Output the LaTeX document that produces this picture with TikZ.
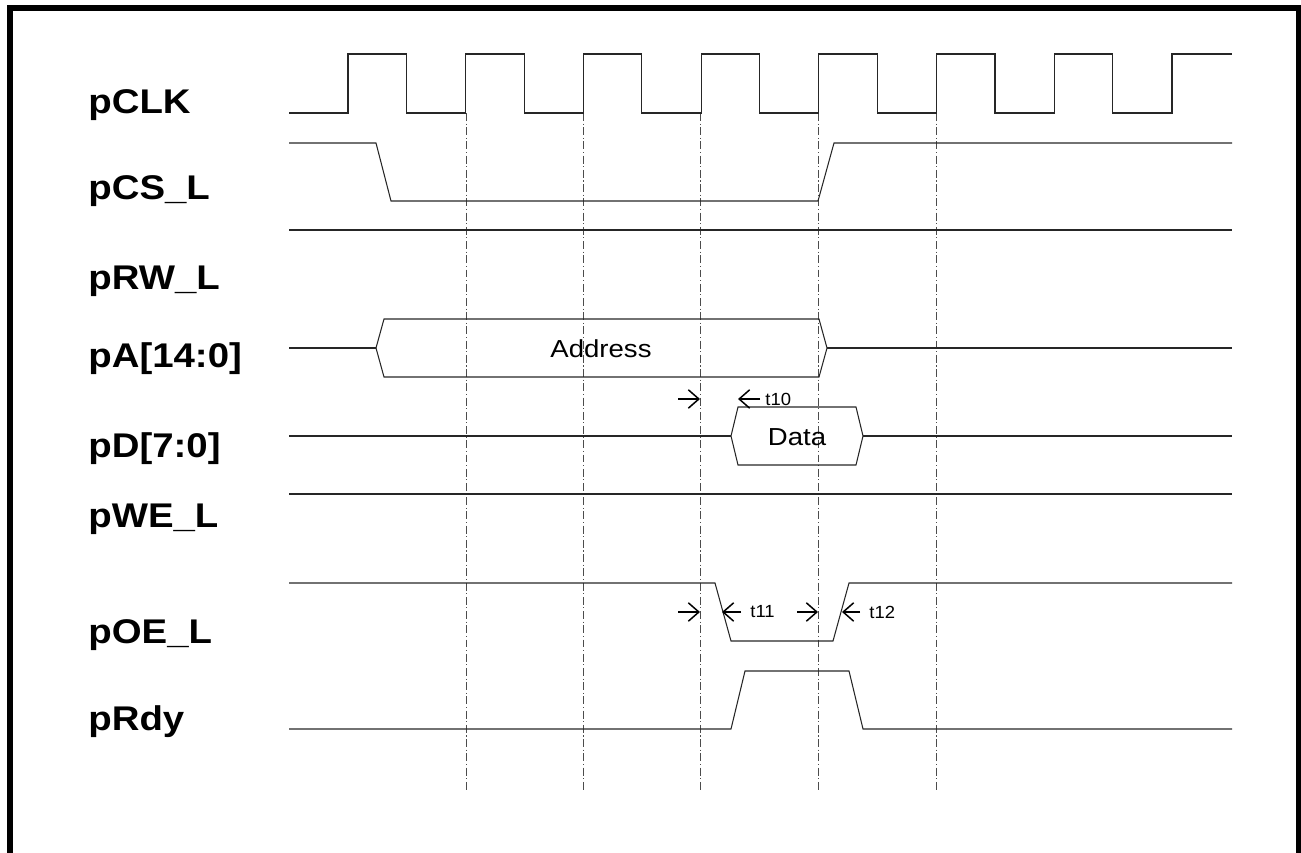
\documentclass[tikz,border=0pt]{standalone}
\usepackage{fontspec}
\setmainfont{Liberation Sans}
\usetikzlibrary{arrows.meta}

\tikzset{
  sig/.style={line width=0.6pt, black!85},
  clkline/.style={line width=0.55pt, black!70, dash pattern=on 4.5pt off 1.5pt on 0.6pt off 1.5pt},
  sname/.style={anchor=base west, inner sep=0pt, font=\fontsize{19.5}{20}\selectfont\bfseries, xscale=1.12, transform shape},
  busname/.style={inner sep=0pt, font=\fontsize{14}{15}\selectfont, xscale=1.12, transform shape},
  tname/.style={anchor=west, inner sep=0pt, font=\fontsize{10}{11}\selectfont, xscale=1.05, transform shape},
  tarr/.style={line width=0.85pt, -{Straight Barb[length=6pt, width=10.5pt]}},
}

\begin{document}
\begin{tikzpicture}[x=0.02cm, y=-0.02cm]
	\useasboundingbox (0,0) rectangle (1301,852);
	\draw[line width=0.12cm, miter limit=10] (10,860) -- (10,8) -- (1299,8) -- (1299,860);

	% signal names
	\node[sname] (clk) at (88,113) {pCLK};
	\node[sname] (cs) at (88,199) {pCS\_L};
	\node[sname] (rw) at (88,289) {pRW\_L};
	\node[sname] (addr) at (88,367) {pA[14:0]};
	\node[sname] (dat) at (88,457) {pD[7:0]};
	\node[sname] (we) at (88,527) {pWE\_L};
	\node[sname] (oe) at (88,643) {pOE\_L};
	\node[sname] (rdy) at (88,730) {pRdy};

	% clock edges
	\foreach \x in {466,583,700,818,936}
		\draw[clkline] (\x,113) -- (\x,790);

	\draw[sig] (289,113) foreach \k in {0,...,6} {
			-- ({348+117.7*\k},113) -- ++(0,-59) -- ++(58.5,0) -- ++(0,59) }
		-- (1172,113) -- (1172,54) -- (1232,54);
	\draw[sig] (289,143) -- (376,143) -- (391,201) -- (818,201) -- (834,143) -- (1232,143);
	\draw[sig] (289,230) -- (1232,230);
	\draw[sig] (289,348) -- (376,348) (827,348) -- (1232,348);
	\draw[sig] (376,348) -- (384,319) -- (819,319) -- (827,348) -- (819,377) -- (384,377) -- cycle;
	\node[busname] (address) at (601,349) {Address};
	\draw[sig] (289,436) -- (731,436) (863,436) -- (1232,436);
	\draw[sig] (731,436) -- (738,407) -- (856,407) -- (863,436) -- (856,465) -- (738,465) -- cycle;
	\node[busname] (data) at (797,437) {Data};
	\draw[sig] (289,494) -- (1232,494);
	\draw[sig] (289,583) -- (715,583) -- (731,641) -- (833,641) -- (849,583) -- (1232,583);
	\draw[sig] (289,729) -- (731,729) -- (745,671) -- (849,671) -- (863,729) -- (1232,729);

	% timings
	\draw[tarr] (678,399) -- (700,399);
	\draw[tarr] (760,399) -- (738,399);
	\node[tname] (t10) at (765,399) {t10};
	\draw[tarr] (678,612) -- (700,612);
	\draw[tarr] (741,612) -- (722,612);
	\node[tname] (t11) at (750,612) {t11};
	\draw[tarr] (797,612) -- (818,612);
	\draw[tarr] (860,612) -- (842,612);
	\node[tname] (t12) at (869,612) {t12};
\end{tikzpicture}
\end{document}
